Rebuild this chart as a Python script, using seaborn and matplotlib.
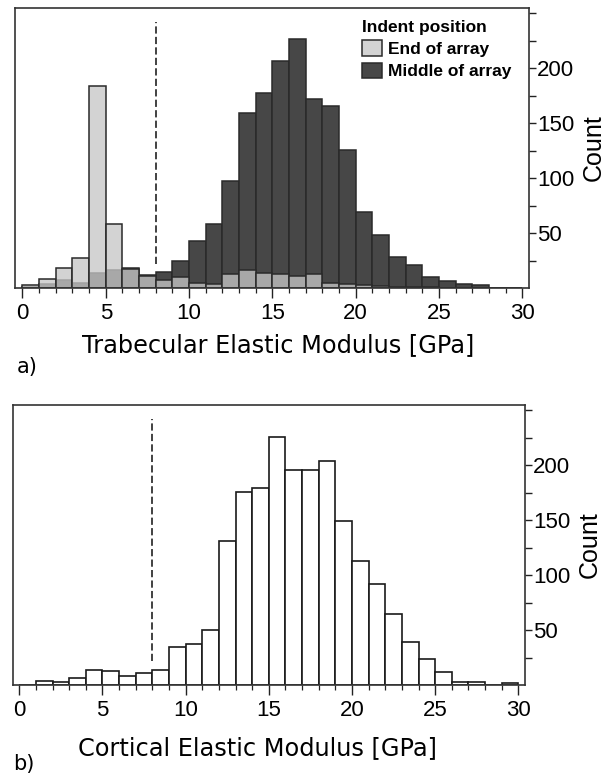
import numpy as np
import pandas as pd
import matplotlib
matplotlib.use("Agg")
import matplotlib.pyplot as plt
from matplotlib.ticker import FixedLocator, MultipleLocator
import seaborn as sns

# ---------------- data ----------------
bin_lower = list(range(0, 30))          # lower edge of each 1 GPa bin
bin_width = 1
trab_end = [3, 8, 18, 27, 184, 58, 17, 11, 7, 10, 5, 4, 13, 16, 14, 13, 11, 13,
            5, 4, 3, 2, 1, 1, 1, 0, 0, 0, 0, 0]
trab_middle = [1, 4, 7, 5, 14, 16, 18, 12, 15, 25, 43, 58, 97, 159, 178, 207, 227,
               172, 166, 126, 69, 48, 28, 21, 10, 6, 4, 3, 0, 0]
cort_counts = [0, 4, 3, 6, 14, 13, 8, 11, 14, 35, 37, 50, 131, 176, 179, 226, 196,
               196, 204, 149, 113, 92, 65, 39, 24, 12, 3, 3, 0, 2]
threshold = 8
series_labels = ["End of array", "Middle of array"]
legend_title = "Indent position"
xlabels = ["Trabecular Elastic Modulus [GPa]", "Cortical Elastic Modulus [GPa]"]
panel_tags = ["a)", "b)"]
y_major = [50, 100, 150, 200]
y_minor = [25, 75, 125, 175, 225, 250]

edges = bin_lower + [bin_lower[-1] + bin_width]
centers = [b + bin_width / 2 for b in bin_lower]
df = pd.DataFrame({"modulus": centers, "end": trab_end,
                   "middle": trab_middle, "cortical": cort_counts})

sns.set_style("ticks")
plt.rcParams["font.family"] = ["Liberation Sans", "DejaVu Sans"]
plt.rcParams["text.color"] = "black"
plt.rcParams["axes.labelcolor"] = "black"

W, H = 605, 777
fig = plt.figure(figsize=(W / 100, H / 100), dpi=100)


def px_axes(l, t, r, b):
    return fig.add_axes([l / W, 1 - b / H, (r - l) / W, (b - t) / H])


ax1 = px_axes(15, 8, 529, 288)
ax2 = px_axes(13, 405, 525, 685)

EDGE = "#2a2a2a"
DARK = "#474747"
LIGHT = "#c6c6c6"

sns.histplot(data=df, x="modulus", weights="middle", bins=edges, ax=ax1,
             color=DARK, alpha=1, edgecolor=EDGE, linewidth=1.1,
             label=series_labels[1])
sns.histplot(data=df, x="modulus", weights="end", bins=edges, ax=ax1,
             color=LIGHT, alpha=0.773, edgecolor=EDGE, linewidth=1.1,
             label=series_labels[0])
sns.histplot(data=df, x="modulus", weights="cortical", bins=edges, ax=ax2,
             color="white", alpha=1, edgecolor="#1a1a1a", linewidth=1.2)

mid_c, end_c = ax1.containers[0], ax1.containers[1]
leg = ax1.legend([end_c, mid_c], series_labels, title=legend_title,
                 loc="upper left", bbox_to_anchor=(0.675, 0.958),
                 frameon=False, borderpad=0, borderaxespad=0,
                 handlelength=1.15, handleheight=1.0, handletextpad=0.35,
                 labelspacing=0.32,
                 prop={"family": "Liberation Sans", "weight": "bold", "size": 12.5},
                 title_fontproperties={"family": "Liberation Sans",
                                       "weight": "bold", "size": 12.5})
leg._legend_box.align = "left"

for ax, xl, xlim, lpad, lx in zip([ax1, ax2], xlabels,
                                  [(-0.45, 30.4), (-0.38, 30.4)],
                                  [6.5, 11], [0.512, 0.477]):
    ax.axvline(threshold, ymin=22 / 255, ymax=242 / 255, color="#333333",
               lw=1.3, ls=(0, (4, 1.8)))
    ax.set_xlim(*xlim)
    ax.set_ylim(0, 255)
    ax.xaxis.set_major_locator(MultipleLocator(5))
    ax.xaxis.set_minor_locator(MultipleLocator(1))
    ax.yaxis.tick_right()
    ax.yaxis.set_label_position("right")
    ax.yaxis.set_major_locator(FixedLocator(y_major))
    ax.yaxis.set_minor_locator(FixedLocator(y_minor))
    ax.tick_params(axis="x", which="major", length=7, width=1, pad=4,
                   labelsize=16, colors="#222222", labelcolor="black")
    ax.tick_params(axis="x", which="minor", length=3.5, width=0.9,
                   colors="#222222")
    ax.tick_params(axis="y", which="both", length=5, width=1, pad=1,
                   labelsize=16, colors="#222222", labelcolor="black")
    for s in ax.spines.values():
        s.set_visible(True)
        s.set_color("#333333")
        s.set_linewidth(1.2)
    ax.set_xlabel(xl, family="DejaVu Sans", fontsize=17.3, labelpad=lpad,
                  color="black")
    ax.xaxis.label.set_x(lx)
    ax.set_ylabel("Count", family="Liberation Sans", fontsize=18, labelpad=5,
                  color="black")

fig.text(17 / W, 1 - 373 / H, panel_tags[0], family="DejaVu Sans", fontsize=15,
         va="baseline", color="black")
fig.text(13 / W, 1 - 770 / H, panel_tags[1], family="DejaVu Sans", fontsize=15,
         va="baseline", color="black")

fig.savefig("out.png", dpi=100)
